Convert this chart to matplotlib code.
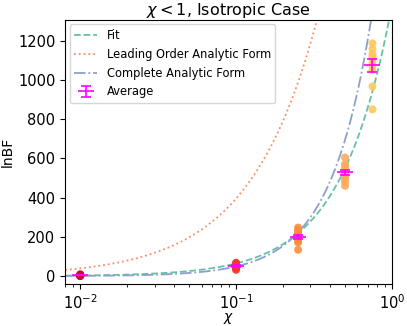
import numpy as np
import matplotlib
matplotlib.use("Agg")
import matplotlib.pyplot as plt

# spin values and lnBF samples
chi_values = [0.01, 0.1, 0.25, 0.5, 0.75]
lnbf_samples = [
    [0, 1, 2, 3, 3, 4, 5, 6, 7, 9],
    [32, 38, 42, 45, 48, 52, 55, 60, 65, 68],
    [134, 171, 180, 188, 195, 205, 215, 225, 235, 247],
    [460, 480, 495, 510, 525, 535, 545, 560, 570, 604],
    [849, 966, 1050, 1070, 1090, 1110, 1120, 1132, 1157, 1186],
]
point_colors = ["#c8102e", "#ef3b2c", "#fd8d3c", "#fdaa5e", "#fec95c"]

# curve parameters (lnBF = A * chi**p)
fit_amp, fit_pow = 1380.0, 1.33
lead_amp, lead_pow = 3950.0, 1.0
full_amp, full_pow = 2166.0, 1.643

set2 = ["#66c2a5", "#fc8d62", "#8da0cb"]

fig = plt.figure(figsize=(4.07, 3.26), dpi=100)
ax = fig.add_axes([0.160, 0.129, 0.803, 0.810])

chi = np.logspace(np.log10(0.008), 0, 400)
ax.plot(chi, fit_amp * chi**fit_pow, ls="--", color=set2[0], lw=1.3, label="Fit")
ax.plot(chi, lead_amp * chi**lead_pow, ls=":", color=set2[1], lw=1.3,
        label="Leading Order Analytic Form")
ax.plot(chi, full_amp * chi**full_pow, ls="-.", color=set2[2], lw=1.3,
        label="Complete Analytic Form")

means, errs = [], []
for c, vals, col in zip(chi_values, lnbf_samples, point_colors):
    vals = np.array(vals, dtype=float)
    ax.scatter(np.full(len(vals), c), vals, s=33, color=col, alpha=0.9,
               edgecolors="none", zorder=3)
    means.append(vals.mean())
    errs.append(vals.std(ddof=1) / np.sqrt(len(vals)))

ax.errorbar(chi_values, means, yerr=errs, fmt="_", color="magenta",
            markersize=11, capsize=3.5, elinewidth=1.2, capthick=1.2,
            mew=1.2, zorder=4, label="Average")

ax.set_xscale("log")
ax.set_xlim(0.008, 1.0)
ax.set_ylim(-40, 1305)
ax.set_yticks([0, 200, 400, 600, 800, 1000, 1200])
ax.set_xlabel(r"$\chi$", fontsize=10, labelpad=-1)
ax.set_ylabel("lnBF", fontsize=10, labelpad=2)
ax.set_title(r"$\chi < 1$, Isotropic Case", fontsize=11.5, pad=1)
ax.tick_params(labelsize=10.5)

ax.legend(loc="upper left", fontsize=8.3, handlelength=2.0,
          borderaxespad=0.4)

fig.savefig("out.png", dpi=100)
